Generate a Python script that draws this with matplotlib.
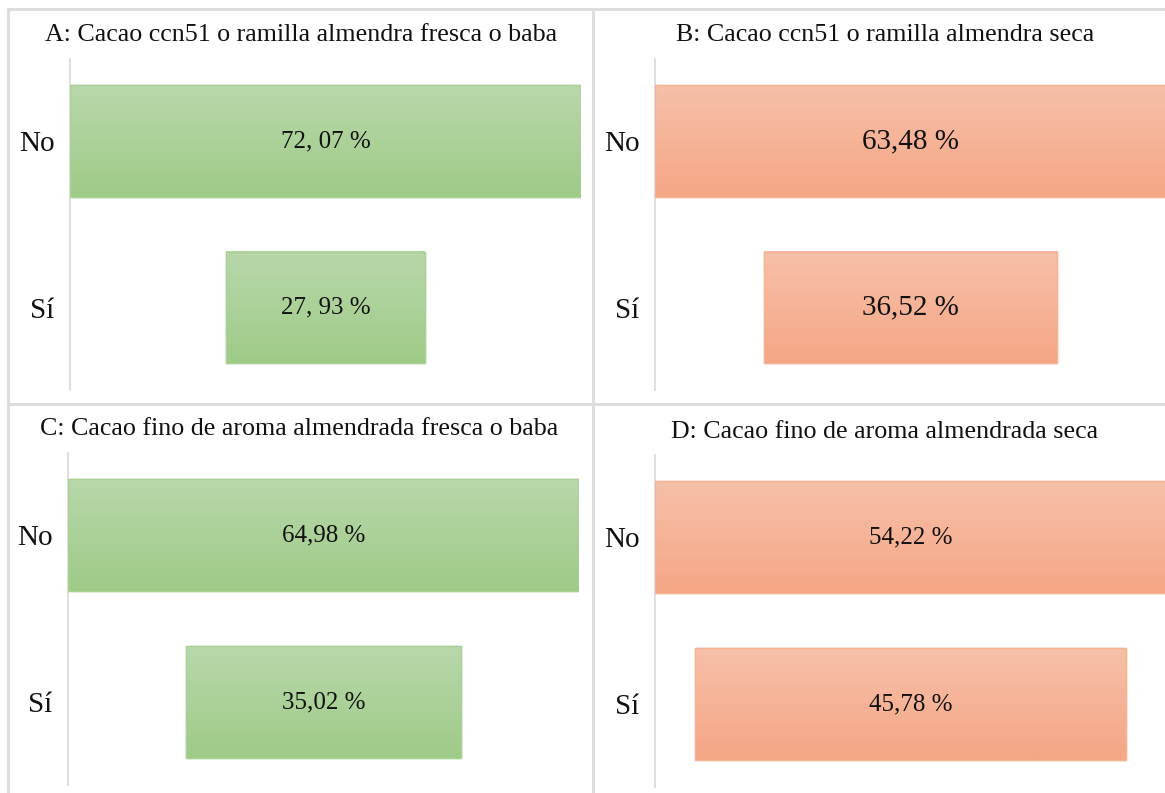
import matplotlib
matplotlib.use("Agg")
import matplotlib.pyplot as plt
import numpy as np
from matplotlib.colors import LinearSegmentedColormap

plt.rcParams['font.family'] = ['Liberation Serif', 'DejaVu Serif']

# respuestas por panel (porcentaje)
categorias = ['No', 'Sí']
titulos = ['A: Cacao ccn51 o ramilla almendra fresca o baba',
           'B: Cacao ccn51 o ramilla almendra seca',
           'C: Cacao fino de aroma almendrada fresca o baba',
           'D: Cacao fino de aroma almendrada seca']
valores_a = [72.07, 27.93]
valores_b = [63.48, 36.52]
valores_c = [64.98, 35.02]
valores_d = [54.22, 45.78]
etiquetas_a = ['72, 07 %', '27, 93 %']
etiquetas_b = ['63,48 %', '36,52 %']
etiquetas_c = ['64,98 %', '35,02 %']
etiquetas_d = ['54,22 %', '45,78 %']

W, H = 1165, 793
fig = plt.figure(figsize=(W / 100, H / 100), dpi=100)

verde = ('#b8d7aa', '#9fcb88', '#a9d196')
naranja = ('#f7c0a9', '#f5a685', '#f5b394')


def px_axes(x0, y0, x1, y1):
    return fig.add_axes([x0 / W, 1 - y1 / H, (x1 - x0) / W, (y1 - y0) / H])


def embudo(ax, valores, etiquetas, colores, size_val):
    top, bottom, borde = colores
    y = np.arange(len(valores))
    vals = np.array(valores)
    bars = ax.barh(y, vals, left=-vals / 2, height=0.67, color=bottom,
                   edgecolor=borde, linewidth=1.0, zorder=2)
    cmap = LinearSegmentedColormap.from_list('g', [top, bottom])
    grad = np.linspace(0, 1, 100).reshape(-1, 1)
    for b in bars:
        x0, yb = b.get_x(), b.get_y()
        ax.imshow(grad, extent=[x0, x0 + b.get_width(), yb + b.get_height(), yb],
                  origin='upper', aspect='auto', cmap=cmap, zorder=3)
        ax.add_patch(plt.Rectangle((x0, yb), b.get_width(), b.get_height(),
                                   fill=False, edgecolor=borde, lw=1.0, zorder=4))
    for yi, txt in zip(y, etiquetas):
        ax.text(0, yi, txt, ha='center', va='center', fontsize=size_val,
                color='#111111', zorder=5)
    m = vals.max()
    ax.set_xlim(-m / 2, m / 2)
    ax.set_ylim(1.495, -0.492)
    ax.set_yticks(y)
    ax.set_yticklabels(categorias, fontsize=21, color='#111111')
    ax.tick_params(axis='y', length=0, pad=11)
    ax.set_xticks([])
    for s in ['top', 'right', 'bottom']:
        ax.spines[s].set_visible(False)
    ax.spines['left'].set_color('#d9d9d9')
    ax.spines['left'].set_linewidth(1.2)
    ax.spines['left'].set_zorder(1)
    ax.patch.set_alpha(0)


ax_a = px_axes(70, 59, 581, 390)
embudo(ax_a, valores_a, etiquetas_a, verde, 18)
ax_b = px_axes(655, 59, 1166, 390)
embudo(ax_b, valores_b, etiquetas_b, naranja, 21)
ax_c = px_axes(68, 453, 579, 785)
embudo(ax_c, valores_c, etiquetas_c, verde, 18)
ax_d = px_axes(655, 455, 1166, 787)
embudo(ax_d, valores_d, etiquetas_d, naranja, 18)

# titulos de cada celda
pos_titulos = [(301, 35), (885, 35), (299, 429), (885, 432)]
for t, (tx, ty) in zip(titulos, pos_titulos):
    fig.text(tx / W, 1 - ty / H, t, ha='center', va='center', fontsize=18.7,
             color='#111111')

# bordes de la tabla
gris = '#dedede'
lineas = [((8, 8), (9, H)), ((8, W), (9, 9)), ((593, 593), (9, H)),
          ((8, W), (404, 404))]
for xs, ys in lineas:
    fig.add_artist(plt.Line2D([x / W for x in xs], [1 - y / H for y in ys],
                              color=gris, lw=2.2, zorder=0))

fig.savefig('out.png', dpi=100)
